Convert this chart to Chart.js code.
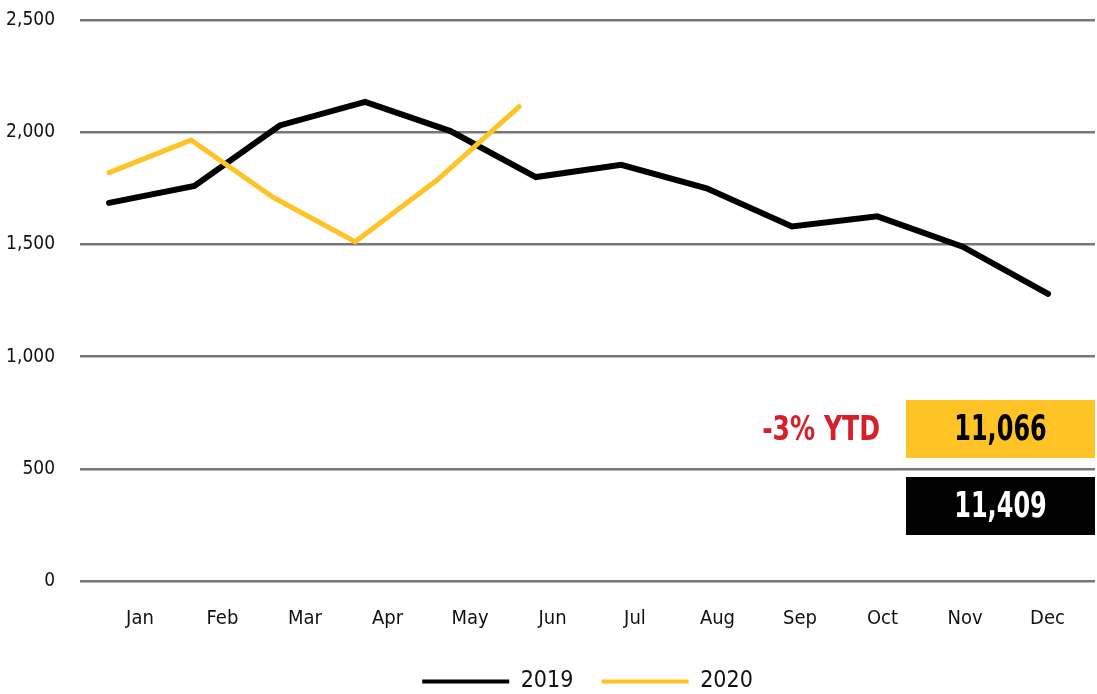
<!DOCTYPE html>
<html lang="en">
<head>
    <meta charset="UTF-8">
    <script src="https://cdn.jsdelivr.net/npm/chart.js"></script>
    <title>Monthly totals 2019 vs 2020</title>
    <style>
    body {
        margin: 0;
        background-color: white;
    }
    #wrap {
        width: 1097px;
        height: 694px;
    }
    </style>
</head>
<body>
    <div id="wrap">
        <canvas id="lineChart" width="1097" height="694"></canvas>
    </div>

    <script>
        // Data
        const months = ['Jan', 'Feb', 'Mar', 'Apr', 'May', 'Jun', 'Jul', 'Aug', 'Sep', 'Oct', 'Nov', 'Dec'];
        const values2019 = [1685, 1760, 2030, 2135, 2005, 1800, 1855, 1750, 1580, 1625, 1490, 1280];
        const values2020 = [1820, 1965, 1710, 1512, 1787, 2114];
        const yTicks = [0, 500, 1000, 1500, 2000, 2500];
        const ytdChange = '-3% YTD';
        const ytd2020 = '11,066';
        const ytd2019 = '11,409';

        const FONT = '"DejaVu Sans Condensed", "Liberation Sans Narrow", "Liberation Sans", sans-serif';
        const YELLOW = '#FFC326';

        // Draws condensed text (squeezed horizontally)
        function squeezedText(ctx, text, x, y, sx) {
            ctx.save();
            ctx.translate(x, y);
            ctx.scale(sx, 1);
            ctx.fillText(text, 0, 0);
            ctx.restore();
        }

        // Draws the YTD boxes on the right of the chart
        const ytdBoxes = {
            id: 'ytdBoxes',
            afterDatasetsDraw(chart) {
                const ctx = chart.ctx;
                const area = chart.chartArea;
                const w = 189;
                const left = area.right - w;
                ctx.save();
                ctx.textBaseline = 'middle';
                ctx.textAlign = 'center';
                ctx.font = 'bold 36px ' + FONT;

                ctx.fillStyle = YELLOW;
                ctx.fillRect(left, 400, w, 58);
                ctx.fillStyle = '#000';
                squeezedText(ctx, ytd2020, left + w / 2, 431, 0.74);

                ctx.fillStyle = '#000';
                ctx.fillRect(left, 477, w, 58);
                ctx.fillStyle = '#fff';
                squeezedText(ctx, ytd2019, left + w / 2, 508, 0.74);

                ctx.textAlign = 'right';
                ctx.font = 'bold 34px ' + FONT;
                ctx.fillStyle = '#D71F2B';
                squeezedText(ctx, ytdChange, left - 26, 431, 0.82);
                ctx.restore();
            }
        };

        const data2019 = values2019.map((v, i) => ({ x: i, y: v }));
        const data2020 = values2020.map((v, i) => ({ x: i, y: v }));

        const chart = new Chart(document.getElementById('lineChart'), {
            type: 'line',
            data: {
                datasets: [{
                    label: '2020',
                    data: data2020,
                    xAxisID: 'x20',
                    borderColor: YELLOW,
                    backgroundColor: YELLOW,
                    borderWidth: 5,
                    borderCapStyle: 'round',
                    pointRadius: 0,
                    tension: 0
                }, {
                    label: '2019',
                    data: data2019,
                    xAxisID: 'x19',
                    borderColor: '#000',
                    backgroundColor: '#000',
                    borderWidth: 6,
                    borderCapStyle: 'round',
                    pointRadius: 0,
                    tension: 0
                }]
            },
            options: {
                responsive: false,
                animation: false,
                layout: {
                    padding: { top: 20, right: 2, left: 0, bottom: -9 }
                },
                plugins: {
                    tooltip: { enabled: false },
                    legend: {
                        position: 'bottom',
                        fullSize: false,
                        labels: {
                            color: '#111',
                            font: { family: FONT, size: 23 },
                            boxWidth: 87,
                            boxHeight: 4,
                            padding: 2,
                            sort: (a, b) => a.text.localeCompare(b.text),
                            generateLabels(chart) {
                                const items = Chart.defaults.plugins.legend.labels.generateLabels(chart);
                                items.forEach(it => {
                                    it.lineWidth = 0;
                                    if (it.text === '2019') it.text = '2019    ';
                                });
                                return items;
                            }
                        }
                    }
                },
                scales: {
                    x19: {
                        type: 'linear',
                        display: false,
                        min: -0.34,
                        max: 11.55
                    },
                    x20: {
                        type: 'linear',
                        display: false,
                        min: -0.354,
                        max: 12.02
                    },
                    x: {
                        type: 'linear',
                        position: 'bottom',
                        min: -0.727,
                        max: 11.576,
                        grid: { display: false, drawTicks: false },
                        border: { display: false },
                        afterBuildTicks(scale) {
                            scale.ticks = months.map((m, i) => ({ value: i }));
                        },
                        afterFit(scale) {
                            scale.height = 87;
                        },
                        ticks: {
                            autoSkip: false,
                            maxRotation: 0,
                            padding: 26,
                            color: '#111',
                            font: { family: FONT, size: 20 },
                            callback: (v) => months[v]
                        }
                    },
                    y: {
                        min: 0,
                        max: 2500,
                        afterBuildTicks(scale) {
                            scale.ticks = yTicks.map(v => ({ value: v }));
                        },
                        afterFit(scale) {
                            scale.width = 80;
                            scale.paddingTop = 0;
                            scale.paddingBottom = 0;
                        },
                        grid: {
                            color: '#77777a',
                            lineWidth: 2.5,
                            drawTicks: false
                        },
                        border: { display: false },
                        ticks: {
                            padding: 25,
                            color: '#111',
                            font: { family: FONT, size: 19 },
                            callback: (v) => v.toLocaleString('en-US')
                        }
                    }
                }
            },
            plugins: [ytdBoxes]
        });
    </script>
</body>
</html>
